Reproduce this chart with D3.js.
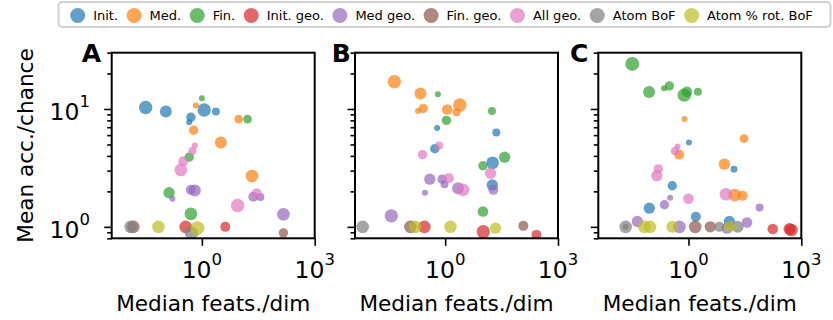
<!DOCTYPE html>
<html>
<head>
<meta charset="utf-8">
<script src="https://cdn.jsdelivr.net/npm/d3@7"></script>
<style>
  body { margin: 0; background: #fff; }
  svg text { font-family: "DejaVu Sans", sans-serif; }
</style>
</head>
<body>
<div id="chart"></div>
<script>
// series shown in every panel (legend order = draw order)
const seriesNames = ["Init.", "Med.", "Fin.", "Init. geo.", "Med geo.", "Fin. geo.", "All geo.", "Atom BoF", "Atom % rot. BoF"];
const panelLabels = ["A", "B", "C"];
const xTicks = [1, 1000];
const yTicks = [1, 10];

// [median feats./dim, mean acc./chance, size]
const panelA = {
  "Init.": [[0.032, 10.3, 45], [0.11, 9.5, 36], [0.51, 8.5, 22], [0.46, 7.7, 9], [1.15, 9.8, 45], [2.36, 9.5, 16]],
  "Med.": [[0.69, 10.7, 9], [0.60, 6.6, 22], [9.5, 8.2, 19], [3.2, 5.2, 36], [21.5, 2.7, 40]],
  "Fin.": [[1.0, 12.3, 9], [16.4, 8.2, 19], [0.46, 3.9, 22], [0.134, 1.95, 32], [0.51, 1.29, 40]],
  "Init. geo.": [[0.37, 1.0, 40], [4.2, 1.0, 25]],
  "Med geo.": [[0.51, 2.06, 25], [0.65, 2.03, 36], [0.164, 1.73, 9], [23.3, 1.80, 25], [35.9, 1.79, 16], [147, 1.28, 40]],
  "Fin. geo.": [[0.015, 1.0, 40], [147, 0.89, 22]],
  "All geo.": [[0.65, 4.9, 9], [0.56, 4.4, 16], [0.32, 3.6, 25], [0.275, 3.04, 40], [28.6, 1.93, 25], [8.9, 1.52, 45]],
  "Atom BoF": [[0.0128, 1.0, 40], [0.53, 0.885, 45]],
  "Atom % rot. BoF": [[0.070, 1.0, 40], [0.76, 0.975, 49]]
};

const panelB = {
  "Init.": [[0.61, 6.9, 9], [22.9, 6.3, 16], [0.53, 4.6, 22], [18.2, 3.5, 40], [17.9, 2.27, 32]],
  "Med.": [[0.0445, 17.0, 45], [0.22, 13.5, 36], [0.26, 10.1, 22], [0.19, 9.6, 9], [1.13, 9.9, 28], [2.0, 9.4, 16], [2.45, 10.8, 45]],
  "Fin.": [[0.64, 13.3, 9], [1.08, 8.0, 22], [17.5, 9.6, 16], [38.1, 3.9, 32], [10.1, 3.3, 22], [10.1, 1.35, 28]],
  "Init. geo.": [[0.28, 1.0, 40], [10.3, 0.91, 45], [267, 0.855, 25]],
  "Med geo.": [[0.39, 2.54, 32], [0.83, 2.54, 22], [0.96, 2.30, 16], [0.29, 1.95, 9], [2.2, 2.13, 36], [19.1, 2.06, 25], [0.037, 1.24, 45]],
  "Fin. geo.": [[0.119, 1.0, 40], [120, 1.02, 25]],
  "All geo.": [[0.69, 4.9, 16], [0.25, 4.1, 22], [16.1, 2.85, 32], [1.25, 2.59, 25], [3.0, 2.06, 40]],
  "Atom BoF": [[0.0064, 1.0, 40]],
  "Atom % rot. BoF": [[0.16, 1.0, 40], [1.38, 1.0, 40], [21.9, 0.975, 32]]
};

const panelC = {
  "Init.": [[1.03, 5.2, 9], [16.2, 3.08, 12], [0.37, 2.23, 22], [0.091, 1.44, 32], [1.57, 1.22, 25], [12.2, 1.11, 32]],
  "Med.": [[0.78, 8.2, 9], [30.0, 5.6, 19], [0.565, 4.1, 25], [9.0, 3.4, 32], [16.9, 1.86, 40], [27.5, 1.84, 25]],
  "Fin.": [[0.032, 24.1, 49], [0.0895, 13.9, 36], [0.225, 15.0, 9], [0.31, 15.7, 22], [0.77, 13.1, 45], [0.91, 14.0, 28], [1.78, 14.0, 16]],
  "Init. geo.": [[174, 0.96, 28], [548, 0.94, 40], [484, 0.96, 36]],
  "Med geo.": [[0.325, 1.77, 9], [0.23, 1.54, 22], [78, 1.46, 16], [0.044, 1.11, 32], [0.575, 1.0, 40], [36, 1.09, 28], [10.6, 0.975, 32]],
  "Fin. geo.": [[1.51, 1.0, 40], [3.8, 1.0, 32]],
  "All geo.": [[0.51, 4.8, 9], [0.44, 4.4, 19], [0.158, 3.1, 22], [0.144, 2.72, 32], [1.0, 1.73, 28], [9.9, 1.89, 40]],
  "Atom BoF": [[0.0214, 1.0, 40], [0.0214, 1.0, 9], [6.6, 1.0, 25], [20.3, 1.0, 36]],
  "Atom % rot. BoF": [[0.067, 1.0, 40], [0.095, 1.0, 40], [0.37, 1.0, 36], [12.4, 1.0, 32]]
};

const panels = [panelA, panelB, panelC];

const width = 833, height = 320;
const plotTop = 52.7, plotBottom = 238.3, plotW = 203;
const panelLeft = [111.7, 355, 598.3];
const letterX = [81.7, 331.7, 570];

const color = d3.scaleOrdinal().domain(seriesNames).range(d3.schemeCategory10);
const size = d3.scaleSqrt().domain([0, 49]).range([0, 7]);

const svg = d3.select("#chart").append("svg")
  .attr("width", width)
  .attr("height", height);

const y = d3.scaleLog().domain([0.8, 30]).range([plotBottom, plotTop]);
const yMinor = [0.8, 0.9, 2, 3, 4, 5, 6, 7, 8, 9, 20, 30];

function powLabel(sel, v) {
  const e = Math.round(Math.log10(v));
  sel.append("tspan").text("10");
  sel.append("tspan").attr("font-size", "16.5px").attr("dy", -13).text(e);
}

panels.forEach((data, i) => {
  const left = panelLeft[i];
  const x = d3.scaleLog().domain([0.004, 1000]).range([left, left + plotW]);

  const clipId = "clip" + i;
  svg.append("clipPath").attr("id", clipId)
    .append("rect")
    .attr("x", left).attr("y", plotTop)
    .attr("width", plotW).attr("height", plotBottom - plotTop);

  const g = svg.append("g").attr("clip-path", `url(#${clipId})`);
  seriesNames.forEach(name => {
    g.append("g")
      .attr("fill", color(name))
      .attr("fill-opacity", 0.7)
      .selectAll("circle")
      .data(data[name])
      .join("circle")
      .attr("cx", d => x(d[0]))
      .attr("cy", d => y(d[1]))
      .attr("r", d => size(d[2]));
  });

  // y ticks
  const yAxisG = svg.append("g").attr("transform", `translate(${left},0)`);
  yAxisG.call(d3.axisLeft(y).tickValues(yTicks).tickSize(7.5).tickFormat(""));
  yAxisG.append("g").call(d3.axisLeft(y).tickValues(yMinor).tickSize(4.5).tickFormat(""));
  yAxisG.selectAll(".domain").remove();
  yAxisG.selectAll("line").attr("stroke", "#000").attr("stroke-width", 1.6);

  if (i === 0) {
    yTicks.forEach(v => {
      const t = svg.append("text")
        .attr("x", left - 21.7)
        .attr("y", y(v) + 11)
        .attr("text-anchor", "end")
        .attr("font-size", "23.5px")
        .attr("fill", "#000");
      powLabel(t, v);
    });
  }

  // x ticks
  const xAxisG = svg.append("g").attr("transform", `translate(0,${plotBottom})`);
  xAxisG.call(d3.axisBottom(x).tickValues(xTicks).tickSize(7.5).tickFormat(""));
  xAxisG.selectAll(".domain").remove();
  xAxisG.selectAll("line").attr("stroke", "#000").attr("stroke-width", 1.6);

  xTicks.forEach(v => {
    const t = svg.append("text")
      .attr("x", x(v))
      .attr("y", plotBottom + 40)
      .attr("text-anchor", "middle")
      .attr("font-size", "23.5px")
      .attr("fill", "#000");
    powLabel(t, v);
  });

  // frame
  svg.append("rect")
    .attr("x", left).attr("y", plotTop)
    .attr("width", plotW).attr("height", plotBottom - plotTop)
    .attr("fill", "none")
    .attr("stroke", "#000")
    .attr("stroke-width", 2);

  svg.append("text")
    .attr("x", left + plotW / 2)
    .attr("y", 311)
    .attr("text-anchor", "middle")
    .attr("font-size", "21.6px")
    .text("Median feats./dim");

  svg.append("text")
    .attr("x", letterX[i])
    .attr("y", 61.7)
    .attr("font-size", "25px")
    .attr("font-weight", "bold")
    .text(panelLabels[i]);
});

svg.append("text")
  .attr("transform", `translate(33,${(plotTop + plotBottom) / 2}) rotate(-90)`)
  .attr("text-anchor", "middle")
  .attr("font-size", "21.6px")
  .text("Mean acc./chance");

// legend
const legend = svg.append("g");
legend.append("rect")
  .attr("x", 58.5).attr("y", 2)
  .attr("width", 772).attr("height", 25)
  .attr("rx", 4)
  .attr("fill", "#fff")
  .attr("stroke", "#d0d0d0")
  .attr("stroke-width", 2);

let lx = 77.7;
seriesNames.forEach(name => {
  legend.append("circle")
    .attr("cx", lx).attr("cy", 15.5).attr("r", 7.5)
    .attr("fill", color(name)).attr("fill-opacity", 0.7);
  const t = legend.append("text")
    .attr("x", lx + 15.5).attr("y", 20)
    .attr("font-size", "13px")
    .text(name);
  lx += 15.5 + t.node().getComputedTextLength() + 16;
});
</script>
</body>
</html>
